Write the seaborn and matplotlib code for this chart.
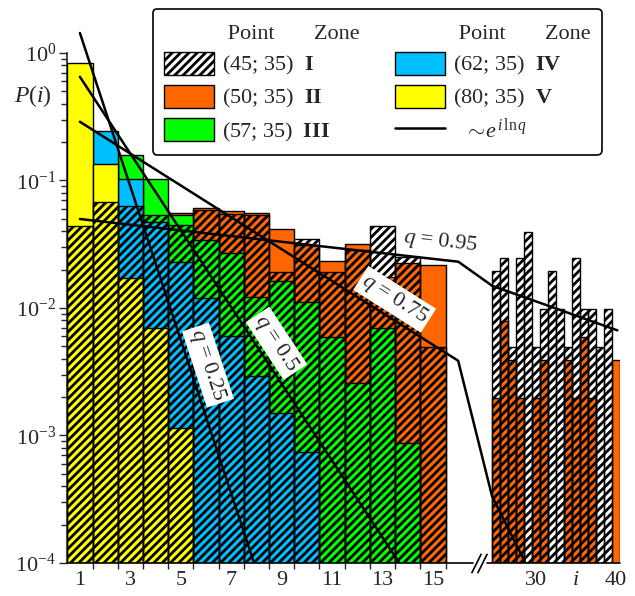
import numpy as np
import pandas as pd
import matplotlib
matplotlib.use("Agg")
import matplotlib.pyplot as plt
import seaborn as sns
from matplotlib.patches import Patch, Rectangle
from matplotlib.lines import Line2D

# ------------------------------------------------------------------ data
i_left = [1, 2, 3, 4, 5, 6, 7, 8, 9, 10, 11, 12, 13, 14, 15]
i_right = [25, 26, 27, 28, 29, 30, 31, 32, 33, 34, 35, 36, 37, 38, 39, 40]

# zone I  (45; 35) - hatched, drawn on top
zone1_left = [0.044, 0.068, 0.063, 0.054, 0.045, 0.059, 0.055, 0.0535, 0.0193,
              0.0348, 0.0193, 0.0285, 0.044, 0.025, 0.0049]
zone1_right = [0.0196, 0.0245, 0.0049, 0.0245, 0.0392, 0.0049, 0.0098, 0.0196,
               0.0098, 0.0049, 0.0245, 0.0098, 0.0098, 0.0049, 0.0098, 0.0]
# zone II (50; 35) - orange
zone2_left = [0.03, 0.04, 0.05, 0.055, 0.056, 0.0612, 0.0577, 0.0559, 0.0414,
              0.0312, 0.0234, 0.0316, 0.0176, 0.0224, 0.0217]
zone2_right = [0.00196, 0.00784, 0.00392, 0.00196, 0.0, 0.00196, 0.00392, 0.0,
               0.0, 0.00392, 0.00196, 0.00588, 0.00196, 0.0, 0.0, 0.00392]
# zone III (57; 35) - green
zone3_left = [0.05, 0.12, 0.158, 0.102, 0.054, 0.0341, 0.027, 0.0123, 0.0164,
              0.0112, 0.00595, 0.00257, 0.00693, 0.00087, 0.0]
# zone IV (62; 35) - blue
zone4_left = [0.2, 0.244, 0.102, 0.0475, 0.023, 0.012, 0.006, 0.00293, 0.00149,
              0.000746, 0.0, 0.0, 0.0, 0.0, 0.0]
# zone V (80; 35) - yellow
zone5_left = [0.84, 0.134, 0.0171, 0.00693, 0.00114, 0.0, 0.0, 0.0, 0.0,
              0.0, 0.0, 0.0, 0.0, 0.0, 0.0]

q_values = [0.25, 0.5, 0.75, 0.95]
q_amplitudes = [5.74, 1.3, 0.385, 0.0525]
q_label_pos = [5.4, 8.2, 13.1, 15.2]
q_labels = ["$q$ = 0.25", "$q$ = 0.5", "$q$ = 0.75", "$q$ = 0.95"]

x_ticks = [1, 3, 5, 7, 9, 11, 13, 15, 30, 35, 40]
x_ticklabels = ["1", "3", "5", "7", "9", "11", "13", "15", "30", r"$i$", "40"]
y_ticks = [1e-4, 1e-3, 1e-2, 1e-1, 1e0]
y_ticklabels = [r"$10^{-4}$", r"$10^{-3}$", r"$10^{-2}$", r"$10^{-1}$", r"$10^{0}$"]

legend_points = ["(45; 35)", "(50; 35)", "(57; 35)", "(62; 35)", "(80; 35)"]
legend_zones = ["I", "II", "III", "IV", "V"]
zone_colors = ["white", "#FF6600", "#00FF00", "#00BFFF", "#FFFF00"]

# ------------------------------------------------------------------ style
sns.set_style("ticks")
plt.rcParams["font.family"] = ["Liberation Serif", "DejaVu Serif"]
plt.rcParams["mathtext.fontset"] = "custom"
plt.rcParams["mathtext.rm"] = "Liberation Serif"
plt.rcParams["mathtext.it"] = "Liberation Serif:italic"
plt.rcParams["mathtext.bf"] = "Liberation Serif:bold"
plt.rcParams["hatch.linewidth"] = 2.0
plt.rcParams["axes.linewidth"] = 1.2

FS = 16
HATCH = "////"

fig = plt.figure(figsize=(6.35, 5.96), dpi=100)
ax = fig.add_axes([0.106, 0.0554, 0.870, 0.8557])

# broken x axis: piecewise-linear scale
B1, B2, G, R = 16.0, 24.5, 0.1578, 0.3167
Y1 = B1 + (B2 - B1) * G


def fwd(x):
    x = np.asarray(x, dtype=float)
    return np.where(x <= B1, x, np.where(x <= B2, B1 + (x - B1) * G, Y1 + (x - B2) * R))


def inv(y):
    y = np.asarray(y, dtype=float)
    return np.where(y <= B1, y, np.where(y <= Y1, B1 + (y - B1) / G, B2 + (y - Y1) / R))


ax.set_xscale("function", functions=(fwd, inv))
ax.set_yscale("log")
ax.set_xlim(0.5, 40.5)
ax.set_ylim(1e-4, 1.0)

# ------------------------------------------------------------------ bars
series = [
    (i_left + i_right, zone2_left + zone2_right, zone_colors[1], None),
    (i_left, zone3_left, zone_colors[2], None),
    (i_left, zone4_left, zone_colors[3], None),
    (i_left, zone5_left, zone_colors[4], None),
    (i_left + i_right, zone1_left + zone1_right, "none", HATCH),
]
for z, (xs, vs, col, hatch) in enumerate(series):
    xs = np.asarray(xs)
    vs = np.asarray(vs)
    m = vs > 0
    ax.bar(xs[m], vs[m], width=1.0, bottom=1e-6, color=col, edgecolor="black",
           linewidth=1.0, hatch=hatch, zorder=2 + z)

# ------------------------------------------------------------------ lines q^i
line_i = np.linspace(1.0, 40.2, 2000)
clip = Rectangle((0, 0), 1, 1.3, transform=ax.transAxes)
for q, a in zip(q_values, q_amplitudes):
    df = pd.DataFrame({"i": line_i, "P": a * np.exp(line_i * np.log(q))})
    sns.lineplot(data=df, x="i", y="P", color="black", lw=1.8, ax=ax,
                 estimator=None, errorbar=None, legend=False)
    ln = ax.lines[-1]
    ln.set_zorder(10)
    ln.set_clip_path(clip)

ax.set_xlim(0.5, 40.5)
ax.set_ylim(1e-4, 1.0)

# labels next to the lines
for q, a, i0, lab in zip(q_values, q_amplitudes, q_label_pos, q_labels):
    p0 = ax.transData.transform((i0, a * q ** i0))
    p1 = ax.transData.transform((i0 + 0.05, a * q ** (i0 + 0.05)))
    dx, dy = p1 - p0
    ang = np.degrees(np.arctan2(dy, dx))
    n = np.array([-dy, dx]) / np.hypot(dx, dy)
    c = ax.transData.inverted().transform(p0 + 18 * n)
    ax.text(c[0], c[1], lab, rotation=ang, rotation_mode="anchor", ha="center",
            va="center", fontsize=FS, zorder=12,
            bbox=dict(fc="white", ec="none", pad=2))

# ------------------------------------------------------------------ axes decoration
sns.despine(ax=ax, top=True, right=True, bottom=True)
ax.spines["left"].set_linewidth(1.2)
xt = ax.get_xaxis_transform()
ax.plot([0.5, 19.8], [0, 0], transform=xt, color="black", lw=1.2, clip_on=False, zorder=15)
ax.plot([23.3, 40.5], [0, 0], transform=xt, color="black", lw=1.2, clip_on=False, zorder=15)
ax.plot([20.4, 22.1], [0, 0], transform=xt, marker=[(-1, -2), (1, 2)], markersize=14,
        linestyle="none", color="black", mec="black", mew=1.2, clip_on=False, zorder=15)

ax.set_xticks(x_ticks)
ax.set_xticklabels(x_ticklabels)
ax.set_xticks([k + 0.5 for k in range(1, 16)], minor=True)
ax.tick_params(axis="x", which="major", length=0, pad=6, labelsize=FS)
ax.tick_params(axis="x", which="minor", length=4, width=1.0, direction="out")
ax.set_yticks(y_ticks)
ax.set_yticklabels(y_ticklabels)
ax.tick_params(axis="y", which="major", length=6, width=1.0, direction="out", labelsize=FS, pad=2)
ax.tick_params(axis="y", which="minor", length=4, width=1.0, direction="out")
ax.set_xlabel("")
ax.set_ylabel("")
fig.text(33 / 635, 1 - 96 / 596, r"$P(i)$", ha="center", va="center", fontsize=FS + 1)

# ------------------------------------------------------------------ legend
blank = Rectangle((0, 0), 1, 1, fc="none", ec="none")
h = [Patch(facecolor=zone_colors[0], edgecolor="black", hatch=HATCH, lw=1.0)]
for c in zone_colors[1:]:
    h.append(Patch(facecolor=c, edgecolor="black", lw=1.0))
lab = [f"{p}  $\\mathbf{{{z}}}$" for p, z in zip(legend_points, legend_zones)]
handles = [blank, h[0], h[1], h[2], blank, h[3], h[4],
           Line2D([], [], color="black", lw=1.8)]
labels = [" Point       Zone", lab[0], lab[1], lab[2], " Point       Zone", lab[3], lab[4],
          r"  $\sim\!e^{\,i\,\mathrm{ln}\,q}$"]
leg = ax.legend(handles, labels, ncol=2, loc="upper left",
                bbox_to_anchor=(153 / 635, 1 - 9 / 596), bbox_transform=fig.transFigure,
                borderaxespad=0, fontsize=FS, frameon=True, fancybox=True,
                handlelength=2.25, handleheight=1.25, handletextpad=0.35,
                labelspacing=0.33, columnspacing=1.6, borderpad=0.5)
leg.get_frame().set_edgecolor("black")
leg.get_frame().set_linewidth(1.2)
leg.get_frame().set_alpha(1)
leg.set_zorder(20)

fig.savefig("out.png", dpi=100)
